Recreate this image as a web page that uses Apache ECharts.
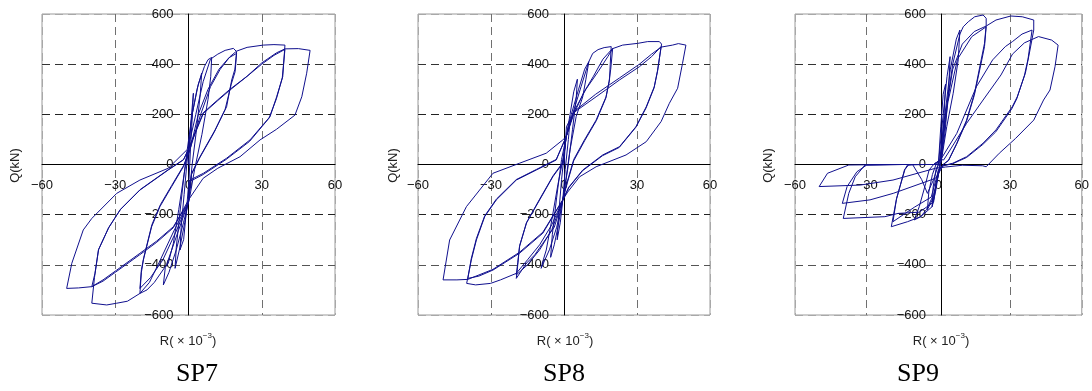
<!DOCTYPE html>
<html>
<head>
<meta charset="utf-8">
<script src="https://cdn.jsdelivr.net/npm/echarts@6/dist/echarts.min.js"></script>
<style>
  html, body { margin: 0; padding: 0; background: #fff; }
  #chart { width: 1092px; height: 391px; }
</style>
</head>
<body>
<div id="chart"></div>
<script>
// tick values shared by all three panels
const rTicks = [-60, -30, 0, 30, 60];
const qTicks = [-600, -400, -200, 0, 200, 400, 600];
const panelNames = ["SP7", "SP8", "SP9"];

// hysteresis loops, [R (x10^-3), Q (kN)]
const sp7Loops = [
  [[0,0],[0.8,150],[2,284],[1.6,200],[0.8,60],[0.2,-60],[-0.8,-180],[-2,-300],[-3.5,-341],[-3,-250],[-1.8,-120],[-0.7,0],[0,70]],
  [[0,70],[1.5,200],[3.5,300],[5.4,364],[4.8,280],[3.3,140],[1.5,0],[0.3,-120],[-1.5,-230],[-3.5,-330],[-5.5,-414],[-5,-330],[-3.5,-190],[-1.8,-40],[-0.5,60]],
  [[-0.5,60],[1.5,200],[4,320],[6.5,390],[8,418],[9.5,427],[9.1,350],[8,260],[5.5,120],[2.5,-20],[0.5,-130],[-2,-230],[-5,-340],[-8,-430],[-10.3,-480],[-9.5,-410],[-8.3,-394],[-6.2,-314],[-4,-180],[-1.5,-20],[0.2,80]],
  [[0.2,80],[3,200],[6,330],[9,420],[12,440],[15,455],[18.4,463],[19.7,450],[19,380],[17.7,337],[15.6,230],[10.9,138],[4.7,31],[1.3,-35],[0,-150],[-4,-260],[-9,-400],[-14,-470],[-17,-500],[-19.9,-514],[-19.3,-430],[-18.5,-381],[-15.1,-248],[-11.7,-168],[-6.9,-88],[-2.1,-9],[0.6,58]],
  [[0.6,58],[4,200],[8,300],[12.5,380],[16.5,425],[19.7,443],[19.1,370],[17.5,320],[15,220],[10.5,128],[4.5,25],[1.2,-40],[0,-150],[-5,-265],[-10.5,-380],[-15.5,-450],[-19.9,-494],[-19.3,-420],[-18.3,-370],[-15,-240],[-11.5,-160],[-6.9,-84],[-2,-4],[0.6,60]],
  [[0.6,60],[5,200],[9,310],[13,380],[17,430],[19.7,452],[24,467],[30.6,476],[35,478],[39.5,476],[38.6,350],[36.1,270],[33.4,191],[25.2,98],[15.6,25],[6.1,-35],[0.6,-62],[0,-150],[-6,-265],[-12,-390],[-16,-470],[-19.9,-514],[-25,-545],[-29.4,-553],[-33.5,-560],[-39.6,-553],[-38.5,-450],[-36.9,-341],[-32.8,-254],[-28,-181],[-19.9,-102],[-8.3,-22],[-2.1,18],[0,60]],
  [[0,60],[6.1,204],[12,255],[17,297],[23.8,350],[30,400],[35,435],[39.5,459],[38.4,345],[36,262],[33,185],[25,92],[15.4,20],[6,-40],[0.5,-68],[0,-150],[-6.2,-248],[-13,-305],[-19.9,-354],[-29.4,-421],[-35,-460],[-39.6,-487],[-38.3,-434],[-36.8,-338],[-32.6,-250],[-27.8,-178],[-19.8,-100],[-8.2,-20],[-2,20],[0,62]],
  [[0,62],[6,206],[12,258],[17,300],[24,352],[30,405],[36,445],[39.5,461],[45,462],[49.8,455],[48.4,364],[46.4,270],[43.6,197],[36,140],[29.3,98],[21.1,31],[12,-15],[6,-55],[0,-141],[-6.2,-252],[-13,-310],[-20,-360],[-30,-430],[-35,-465],[-39.6,-487],[-45,-492],[-49.9,-494],[-47.8,-394],[-43.1,-261],[-39.6,-215],[-29.4,-115],[-19.9,-62],[-8.3,-15],[-0.7,58]]
];

const sp8Loops = [
  [[0,0],[1,150],[2.5,180],[1.8,100],[0.5,-20],[-0.5,-141],[-1.5,-230],[-2.8,-300],[-2.2,-200],[-1,-60],[0.3,60],[0.9,111]],
  [[0.9,111],[2.5,200],[4,290],[5.5,340],[5,260],[3.5,140],[1.5,-20],[-0.5,-141],[-2.5,-250],[-4,-320],[-5.5,-370],[-4.8,-280],[-3,-130],[-1,20],[0.9,111]],
  [[0.9,111],[3,200],[6,300],[8.5,380],[10.2,410],[9,340],[7.7,270],[5,191],[2.5,60],[0.5,-80],[-0.5,-141],[-3,-250],[-6,-340],[-9.4,-414],[-8.5,-380],[-7.3,-341],[-5,-220],[-2.5,-80],[0,40],[0.9,111]],
  [[0.9,111],[3.5,200],[7,310],[10.2,410],[11.8,443],[14,458],[16.5,466],[19.4,470],[19,400],[18.7,337],[17.3,270],[13.2,177],[8.4,98],[4,20],[1,-80],[-0.5,-141],[-4,-250],[-8.7,-314],[-12,-360],[-15.5,-394],[-19.6,-454],[-19,-400],[-18.3,-328],[-15.5,-234],[-10,-141],[-4.6,-49],[-0.5,5],[0.9,111]],
  [[0.9,111],[4,200],[8,285],[12,350],[16,420],[20,463],[19.2,380],[18.5,330],[17.2,265],[13.3,175],[8.5,95],[4,15],[1,-85],[-0.5,-141],[-5,-260],[-10,-340],[-15,-400],[-19.6,-440],[-19,-390],[-18.2,-322],[-15.3,-230],[-10,-138],[-4.5,-45],[-0.5,8],[0.9,111]],
  [[0.9,111],[4,210],[9,300],[14,370],[18,430],[20,462],[24.1,476],[30.3,483],[34.4,490],[39.2,490],[40.1,480],[38.5,377],[37.1,310],[33.8,230],[29.6,151],[22.8,71],[15.9,38],[7.7,-22],[2,-90],[-0.5,-141],[-5,-240],[-10,-320],[-15,-380],[-19.6,-434],[-26.1,-460],[-30.2,-474],[-36.3,-480],[-40,-474],[-38.1,-381],[-36,-301],[-32.6,-208],[-27.8,-141],[-19.6,-62],[-11.4,-22],[-3.2,18],[0.9,111]],
  [[0.9,111],[3.6,204],[13.2,270],[22.8,337],[31,390],[36,430],[39.9,470],[38.4,370],[37,305],[33.7,225],[29.5,148],[22.7,68],[15.8,35],[7.6,-25],[2,-92],[-0.5,-141],[-8.7,-274],[-18.3,-354],[-29.2,-421],[-35,-445],[-39.5,-454],[-38.1,-375],[-36,-295],[-32.6,-205],[-27.8,-138],[-19.6,-60],[-11.4,-20],[-3.2,20],[0.9,111]],
  [[0.9,111],[4,210],[13,280],[22.8,345],[31,400],[36,440],[39.9,468],[44.6,476],[47,482],[50.1,476],[48.7,403],[46.7,304],[43.3,244],[39.9,171],[33.8,91],[25.5,38],[13.2,-9],[6.4,-49],[1.5,-110],[-0.5,-141],[-8.7,-270],[-18.3,-350],[-29.2,-418],[-39.5,-458],[-44,-460],[-49.7,-460],[-47,-301],[-40.1,-168],[-29.2,-35],[-18.3,5],[-7.3,45],[-0.5,98],[0.9,111]]
];

const sp9Loops = [
  [[0,0],[1,150],[2,280],[3,320],[2.4,200],[1.2,60],[0.3,-20],[-1,-100],[-2.6,-168],[-2.2,-90],[-1,-20],[0,0]],
  [[0,0],[1.5,150],[3.6,350],[4.9,430],[4.3,300],[2.8,130],[1.2,20],[0,-40],[-2,-130],[-4.6,-180],[-4,-110],[-2.5,-40],[-1,0],[0.5,15]],
  [[0.5,15],[2.5,180],[5,380],[7.5,500],[9,536],[9.7,543],[8.3,417],[6.2,284],[3.5,151],[1.5,31],[0.3,-30],[-2,-120],[-5,-180],[-7.4,-208],[-10.1,-221],[-8,-168],[-5.3,-75],[-3.9,-22],[-2,0],[1,20]],
  [[1,20],[3,200],[6,400],[9,520],[10.4,549],[12.5,569],[15.2,589],[18.7,596],[20,583],[20,556],[19.3,483],[17.9,417],[15.1,284],[11.8,177],[7.7,85],[4.3,18],[2,0],[0,-30],[-2.6,-168],[-7.4,-208],[-12.9,-228],[-19.7,-248],[-17.6,-141],[-14.2,-22],[-12.9,-2],[-6,0],[-1,0],[1,20]],
  [[1,20],[4,250],[8,420],[14,510],[20,549],[19.3,470],[17.8,400],[15,275],[11.7,170],[7.6,80],[4.2,15],[2,0],[0,-25],[-3,-130],[-10,-170],[-19,-228],[-17.5,-135],[-14,-20],[-12.5,-2],[-10.8,0],[-7,-60],[-4.6,-115],[-2,-60],[0,0],[1,20]],
  [[1,20],[3,200],[6,380],[10,480],[15,530],[20,552],[24.1,576],[30.3,592],[35.1,589],[39.9,576],[39.9,536],[37.8,430],[36.4,364],[33,270],[30.9,230],[24.1,138],[18.7,85],[11.8,31],[6,5],[2,-5],[0,-20],[-2,-150],[-8,-190],[-16.9,-195],[-22.4,-208],[-39.8,-215],[-37.5,-115],[-34.8,-49],[-30.7,-2],[-15,0],[-2,0],[1,20]],
  [[1,20],[7.7,124],[15.9,310],[22.7,417],[28,470],[31,490],[35,520],[39.2,536],[37.5,420],[36,355],[32.8,262],[30.7,222],[24,130],[18.6,80],[11.8,28],[6,3],[2,-5],[-1.2,-55],[-18.9,-115],[-28.6,-141],[-40.2,-155],[-38.2,-88],[-34.1,-29],[-30,-2],[-15,0],[-2,0],[1,20]],
  [[1,20],[2.2,18],[4.9,58],[11.8,164],[18.7,257],[26.2,357],[31,440],[36,485],[41.9,510],[47.4,496],[50.1,476],[48.8,390],[46.7,297],[44,257],[39.9,177],[32.3,104],[25.5,45],[20,-9],[18.5,-5],[10,-3],[3,-10],[-1.2,-15],[-19,-62],[-32.7,-82],[-49.9,-88],[-46.4,-35],[-37.5,-2],[-20,0],[0,0]]
];

const allLoops = [sp7Loops, sp8Loops, sp9Loops];

// panel placement in the 1092x391 picture
const panels = [
  { left: 42, width: 293, qx: 15, rx: 188, nameX: 197 },
  { left: 418, width: 292, qx: 393, rx: 565, nameX: 564 },
  { left: 795, width: 292, qx: 768, rx: 941, nameX: 918 }
];
const TOP = 14, HEIGHT = 301;

const SANS = "'Liberation Sans', Arial, sans-serif";
const SERIF = "'Liberation Serif', 'Times New Roman', serif";
const minus = v => (v < 0 ? "\u2212" + (-v) : String(v));

const chart = echarts.init(document.getElementById("chart"), null, { renderer: "canvas" });

const grid = [], xAxis = [], yAxis = [], series = [], graphic = [];

panels.forEach((p, i) => {
  grid.push({
    left: p.left, top: TOP, width: p.width, height: HEIGHT,
    show: true, borderColor: "#9a9a9a", borderWidth: 1, backgroundColor: "transparent"
  });
  // axes sit in the middle of the frame (R = 0 and Q = 0), labels go with them
  xAxis.push({
    gridIndex: i, type: "value", position: "bottom", offset: -HEIGHT / 2,
    min: rTicks[0], max: rTicks[rTicks.length - 1], interval: 30,
    axisLine: { onZero: false, lineStyle: { color: "#000", width: 1 } },
    axisTick: { show: false },
    axisLabel: { formatter: minus, fontSize: 13, fontFamily: SANS, color: "#111", margin: 14 },
    splitLine: {
      show: true,
      lineStyle: { type: [8, 5], width: 1, color: ["#a8a8a8", "#707070", "rgba(0,0,0,0)", "#707070", "#a8a8a8"] }
    }
  });
  yAxis.push({
    gridIndex: i, type: "value", position: "left", offset: -p.width / 2,
    min: qTicks[0], max: qTicks[qTicks.length - 1], interval: 200,
    axisLine: { onZero: false, lineStyle: { color: "#000", width: 1 } },
    axisTick: { show: false },
    axisLabel: { formatter: minus, fontSize: 13, fontFamily: SANS, color: "#111", margin: 15 },
    splitLine: {
      show: true,
      lineStyle: {
        type: [8, 5], width: 1,
        color: ["#a8a8a8", "#555", "#222", "rgba(0,0,0,0)", "#222", "#333", "#a8a8a8"]
      }
    }
  });
  series.push({
    name: panelNames[i], type: "line",
    xAxisIndex: i, yAxisIndex: i,
    data: [].concat(...allLoops[i]),
    showSymbol: false, symbol: "none", smooth: false,
    lineStyle: { color: "#10108e", width: 1 },
    silent: true, animation: false, z: 5
  });

  graphic.push({
    type: "text", x: p.qx, y: TOP + HEIGHT / 2 + 1, rotation: Math.PI / 2,
    style: { text: "Q(kN)", fontSize: 13, fontFamily: SANS, fill: "#222", align: "center", verticalAlign: "middle" }
  });
  graphic.push({
    type: "text", x: p.rx, y: 340,
    style: {
      text: "{a|R( \u00d7 10}{s|\u22123}{a|)}",
      align: "center", verticalAlign: "middle", fill: "#222",
      rich: {
        a: { fontSize: 13, fontFamily: SANS, fill: "#222", lineHeight: 16, verticalAlign: "bottom" },
        s: { fontSize: 8, fontFamily: SANS, fill: "#222", lineHeight: 16, verticalAlign: "top" }
      }
    }
  });
  graphic.push({
    type: "text", x: p.nameX, y: 387,
    style: { text: panelNames[i], fontSize: 26, fontFamily: SERIF, fill: "#000", align: "center", verticalAlign: "bottom" }
  });
});

chart.setOption({
  backgroundColor: "#fff",
  animation: false,
  grid, xAxis, yAxis, series, graphic
});
</script>
</body>
</html>
